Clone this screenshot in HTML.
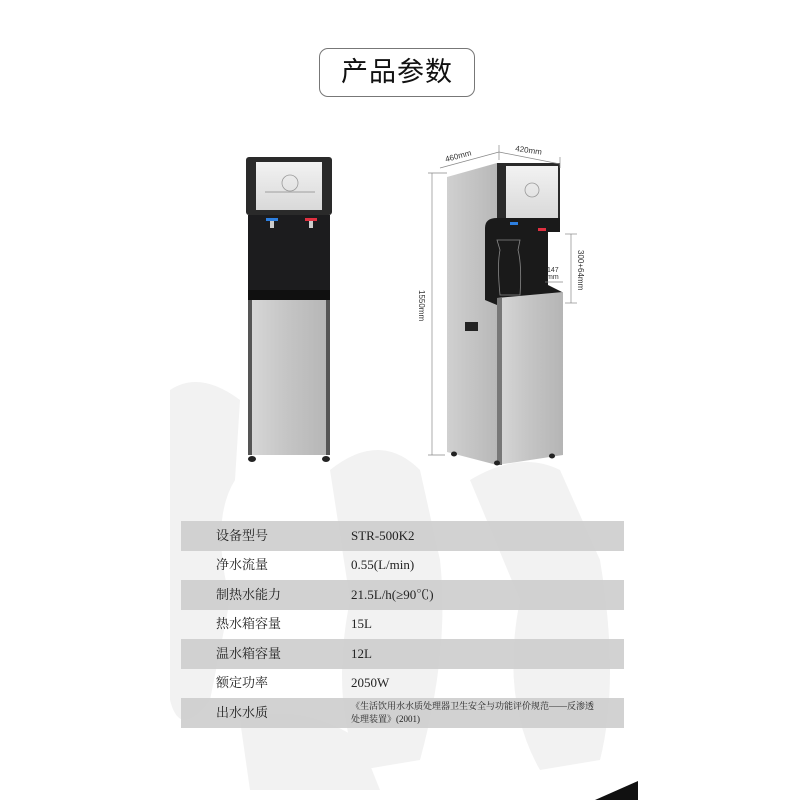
<!DOCTYPE html>
<html><head><meta charset="utf-8"><style>
html,body{margin:0;padding:0;background:#fff;}
body{width:800px;height:800px;position:relative;overflow:hidden;font-family:"Liberation Serif","Noto Serif CJK SC",serif;}
.title{position:absolute;left:319px;top:48px;width:154px;height:47px;border:1.5px solid #777;border-radius:9px;text-align:center;line-height:47px;font-size:27px;color:#111;font-family:"Liberation Sans","Noto Sans CJK SC",sans-serif;letter-spacing:1px;}
.row{position:absolute;left:181px;width:443px;height:29.5px;font-size:13px;color:#222;line-height:29.5px;}
.g{background:rgba(205,205,205,0.9);}
.row .k{position:absolute;left:35px;top:0;font-family:"Liberation Serif","Noto Serif CJK SC",serif;}
.row .v{position:absolute;left:170px;top:0;}
</style></head><body>
<svg width="800" height="800" style="position:absolute;left:0;top:0">
<defs>
<linearGradient id="st" x1="0" x2="1"><stop offset="0" stop-color="#d8d8d8"/><stop offset="0.5" stop-color="#c4c4c4"/><stop offset="1" stop-color="#b5b5b5"/></linearGradient>
<linearGradient id="side" x1="0" x2="1"><stop offset="0" stop-color="#d0d0d0"/><stop offset="1" stop-color="#b8b8b8"/></linearGradient>
<linearGradient id="scr" x1="0" y1="0" x2="0" y2="1"><stop offset="0" stop-color="#f2f2f2"/><stop offset="1" stop-color="#d9d9d9"/></linearGradient>
</defs>
<g fill="#f2f2f2">
<path d="M170 390 Q200 370 240 400 L235 480 Q210 520 230 600 L210 700 Q180 740 170 700 Z"/>
<path d="M330 470 Q380 430 420 470 L440 560 Q450 650 420 760 L360 770 Q330 700 350 600 Z"/>
<path d="M470 480 Q520 450 560 470 L600 560 Q620 680 600 760 L540 770 Q500 700 520 600 Z"/>
<path d="M240 720 Q300 700 360 740 L380 790 L250 790 Z"/>
</g>
<polygon points="595,800 638,781 638,800" fill="#111"/>

<rect x="246" y="157" width="86" height="58" rx="3" fill="#2a2a2a"/>
<rect x="256" y="162" width="66" height="48" fill="url(#scr)"/>
<circle cx="290" cy="183" r="8" fill="none" stroke="#999" stroke-width="0.8"/>
<line x1="265" y1="192" x2="315" y2="192" stroke="#888" stroke-width="0.8"/>
<rect x="248" y="215" width="82" height="75" fill="#1c1c1e"/>
<rect x="266" y="218" width="12" height="3" fill="#2d7fe0"/><rect x="270" y="221" width="4" height="7" fill="#ccc"/>
<rect x="305" y="218" width="12" height="3" fill="#e03040"/><rect x="309" y="221" width="4" height="7" fill="#ccc"/>
<rect x="248" y="290" width="82" height="10" fill="#101010"/>
<rect x="248" y="300" width="82" height="155" fill="url(#st)"/>
<rect x="248" y="300" width="4" height="155" fill="#555"/><rect x="326" y="300" width="4" height="155" fill="#555"/>
<ellipse cx="252" cy="459" rx="4" ry="3" fill="#222"/><ellipse cx="326" cy="459" rx="4" ry="3" fill="#222"/>

<polygon points="447,177 497,163 497,465 447,452" fill="url(#side)"/>
<polygon points="497,163 560,163 560,222 497,222" fill="#2a2a2a"/>
<rect x="506" y="166" width="52" height="52" fill="url(#scr)"/>
<circle cx="532" cy="190" r="7" fill="none" stroke="#999" stroke-width="0.8"/>
<path d="M485 300 L485 228 Q485 218 497 218 L560 218 L560 232 L548 232 L548 285 L562 292 L562 305 L497 305 Z" fill="#1a1a1a"/>
<rect x="510" y="222" width="8" height="3" fill="#2d7fe0"/><rect x="538" y="228" width="8" height="3" fill="#e03040"/>
<path d="M497 240 L520 240 L518 250 Q522 265 520 295 L500 295 Q497 265 500 250 Z" fill="none" stroke="#888" stroke-width="0.8"/>
<polygon points="497,298 563,292 563,455 497,465" fill="url(#st)"/>
<rect x="497" y="298" width="5" height="167" fill="#777"/>
<rect x="465" y="322" width="13" height="9" fill="#222"/>
<ellipse cx="454" cy="454" rx="3" ry="2.5" fill="#222"/><ellipse cx="497" cy="463" rx="3" ry="2.5" fill="#222"/><ellipse cx="552" cy="456" rx="3" ry="2.5" fill="#222"/>
<g stroke="#888" stroke-width="0.7" fill="none">
<line x1="432" y1="173" x2="432" y2="455"/><line x1="428" y1="173" x2="447" y2="173"/><line x1="428" y1="455" x2="445" y2="455"/>
<line x1="440" y1="168" x2="499" y2="152"/><line x1="499" y1="152" x2="560" y2="164"/>
<line x1="499" y1="145" x2="499" y2="160"/><line x1="560" y1="157" x2="560" y2="168"/>
<line x1="571" y1="234" x2="571" y2="303"/><line x1="565" y1="234" x2="577" y2="234"/><line x1="565" y1="303" x2="577" y2="303"/>
<line x1="545" y1="282" x2="563" y2="282"/>
</g>
<g font-family="Liberation Sans, sans-serif" font-size="8" fill="#333">
<text x="446" y="162" transform="rotate(-15 446 162)">460mm</text>
<text x="515" y="151" transform="rotate(8 515 151)">420mm</text>
<text x="419" y="290" transform="rotate(90 419 290)">1550mm</text>
<text x="578" y="250" transform="rotate(90 578 250)">300+64mm</text>
<text x="547" y="272" font-size="7">147</text><text x="547" y="279" font-size="7">mm</text>
</g>
</svg>
<div class="title">产品参数</div>
<div class="row g" style="top:521px"><span class="k">设备型号</span><span class="v">STR-500K2</span></div>
<div class="row" style="top:550px"><span class="k">净水流量</span><span class="v">0.55(L/min)</span></div>
<div class="row g" style="top:580px"><span class="k">制热水能力</span><span class="v">21.5L/h(≥90℃)</span></div>
<div class="row" style="top:609px"><span class="k">热水箱容量</span><span class="v">15L</span></div>
<div class="row g" style="top:639px"><span class="k">温水箱容量</span><span class="v">12L</span></div>
<div class="row" style="top:668px"><span class="k">额定功率</span><span class="v">2050W</span></div>
<div class="row g" style="top:698px;height:30px"><span class="k">出水水质</span><span class="v" style="top:2px;font-size:9px;line-height:13px">《生活饮用水水质处理器卫生安全与功能评价规范——反渗透<br>处理装置》(2001)</span></div>
</body></html>
